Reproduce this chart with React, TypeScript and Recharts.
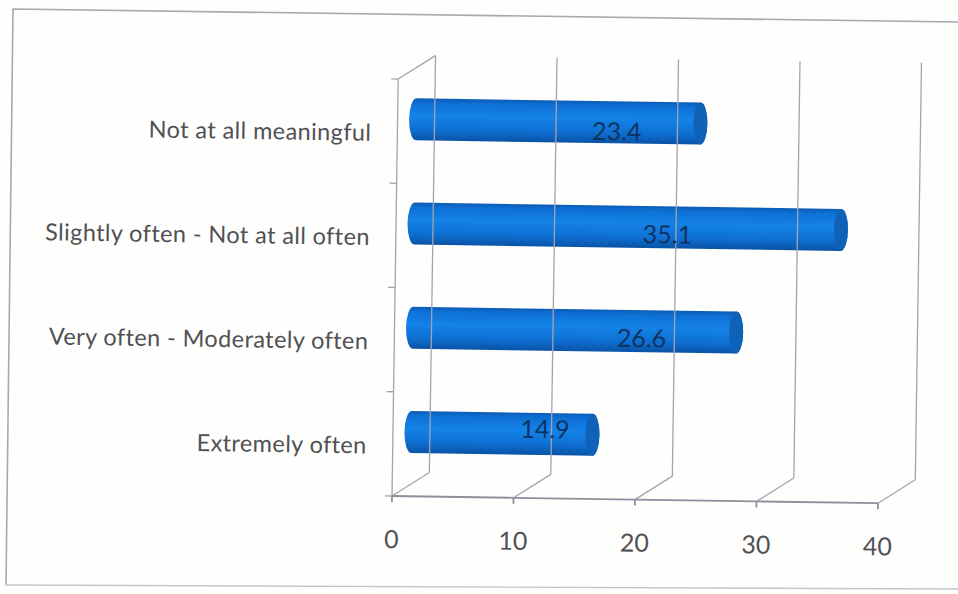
import React from 'react';
import { BarChart, Bar, XAxis, YAxis, LabelList } from 'recharts';

const categories = [
  'Not at all meaningful',
  'Slightly often - Not at all often',
  'Very often - Moderately often',
  'Extremely often',
];
const percentages = [23.4, 35.1, 26.6, 14.9];
const xTicks = [0, 10, 20, 30, 40];

// where each data label sits, relative to the end of its bar and the middle of its row
const labelInset = [65, 155, 76, 29];
const labelLift = [-3, -5, -5, -17];

const rows = categories.map((name, i) => ({ name, value: percentages[i] }));

const WIDTH = 958;
const HEIGHT = 594;
const PLOT_LEFT = 392;
const PLOT_RIGHT = 878;
const PLOT_TOP = 79;
const FLOOR_Y = 496;
const ROW_HEIGHT = (FLOOR_Y - PLOT_TOP) / categories.length;
const TICK_STEP = (PLOT_RIGHT - PLOT_LEFT) / (xTicks.length - 1);
// the box is drawn with a fake depth, back wall sits up and to the right
const DEPTH_X = 37;
const DEPTH_Y = 24;
const TILT = 0.85;

const WALL = '#a3a3af';
const FLOOR = '#8e8e9c';
const TEXT = '#505055';
const FONT = 'Lato, "Open Sans", sans-serif';

function ValueTick({ x, payload, index }: any) {
  return (
    <g>
      <line x1={x} y1={FLOOR_Y} x2={x + DEPTH_X} y2={FLOOR_Y - DEPTH_Y} stroke={WALL} strokeWidth={1.3} />
      <line x1={x + DEPTH_X} y1={FLOOR_Y - DEPTH_Y} x2={x + DEPTH_X} y2={PLOT_TOP - DEPTH_Y} stroke={WALL} strokeWidth={1.3} />
      <line x1={x} y1={FLOOR_Y} x2={x} y2={FLOOR_Y + 6} stroke={FLOOR} strokeWidth={1.8} />
      {index < xTicks.length - 1 && (
        <path d={`M${x},${FLOOR_Y} L${x + TICK_STEP},${FLOOR_Y}`} fill="none" stroke={FLOOR} strokeWidth={1.8} />
      )}
      <text x={x} y={FLOOR_Y + 52} textAnchor="middle" fontFamily={FONT} fontSize={25} fill={TEXT}>
        {payload.value}
      </text>
    </g>
  );
}

function CategoryTick({ y, payload, index }: any) {
  return (
    <g>
      <line x1={PLOT_LEFT - 7} y1={y - ROW_HEIGHT / 2} x2={PLOT_LEFT} y2={y - ROW_HEIGHT / 2} stroke={WALL} strokeWidth={1.3} />
      {index === categories.length - 1 && (
        <line x1={PLOT_LEFT - 7} y1={FLOOR_Y} x2={PLOT_LEFT} y2={FLOOR_Y} stroke={WALL} strokeWidth={1.3} />
      )}
      <text x={366} y={y + 10} textAnchor="end" fontFamily={FONT} fontSize={23.5} letterSpacing={0.4} fill={TEXT}>
        {payload.value}
      </text>
    </g>
  );
}

// Cylinder lying on its side, pushed back to the middle of the box depth
function Cylinder({ x, y, width, height }: any) {
  const rx = 7;
  const left = x + DEPTH_X / 2;
  const right = left + width;
  const top = y - DEPTH_Y / 2;
  const bottom = top + height;
  const mid = (top + bottom) / 2;
  const ry = height / 2;
  const body =
    `M${right},${top} L${left},${top} A${rx},${ry} 0 0 0 ${left},${bottom} ` +
    `L${right},${bottom} A${rx},${ry} 0 0 0 ${right},${top} Z`;
  return (
    <g>
      <path d={body} fill="url(#tube)" />
      <ellipse cx={right} cy={mid} rx={rx} ry={ry} fill="#0f62b8" />
    </g>
  );
}

function ValueLabel({ x, y, width, height, value, index }: any) {
  return (
    <text
      x={x + width - labelInset[index]}
      y={y + height / 2 + labelLift[index] + 9}
      textAnchor="middle"
      fontFamily={FONT}
      fontSize={25}
      fill="#0f3360"
    >
      {value}
    </text>
  );
}

export default function App() {
  return (
    <div style={{ position: 'absolute', left: 0, top: 0, width: WIDTH, height: HEIGHT, overflow: 'hidden', background: '#fefefd' }}>
      <svg width={WIDTH} height={HEIGHT} style={{ position: 'absolute', left: 0, top: 0 }}>
        <path d="M958,22 L13,9 L6,585" fill="none" stroke="#a9a9ad" strokeWidth={1.6} />
        <path d="M6,585 L958,589" fill="none" stroke="#c4c4c6" strokeWidth={1.4} />
      </svg>
      <div style={{ position: 'absolute', left: 0, top: 0, transform: `rotate(${TILT}deg)`, transformOrigin: `${PLOT_LEFT}px ${FLOOR_Y}px` }}>
        <BarChart
          width={WIDTH}
          height={HEIGHT}
          data={rows}
          layout="vertical"
          barSize={42}
          margin={{ top: PLOT_TOP, right: 80, bottom: 38, left: 0 }}
          style={{ overflow: 'visible' }}
        >
          <defs>
            <linearGradient id="tube" x1="0" y1="0" x2="0" y2="1">
              <stop offset="0" stopColor="#0b5cb6" />
              <stop offset="0.12" stopColor="#0e70d6" />
              <stop offset="0.42" stopColor="#1483e8" />
              <stop offset="0.76" stopColor="#0e6ed0" />
              <stop offset="1" stopColor="#0953a6" />
            </linearGradient>
          </defs>
          <XAxis
            type="number"
            domain={[0, 40]}
            ticks={xTicks}
            height={60}
            interval={0}
            tick={<ValueTick />}
            tickLine={false}
            axisLine={false}
          />
          <YAxis
            type="category"
            dataKey="name"
            width={PLOT_LEFT}
            interval={0}
            tick={<CategoryTick />}
            tickLine={false}
            axisLine={{ stroke: WALL, strokeWidth: 1.3 }}
          />
          <Bar dataKey="value" shape={<Cylinder />} isAnimationActive={false}>
            <LabelList dataKey="value" content={<ValueLabel />} />
          </Bar>
          <line x1={PLOT_LEFT} y1={PLOT_TOP} x2={PLOT_LEFT + DEPTH_X} y2={PLOT_TOP - DEPTH_Y} stroke={WALL} strokeWidth={1.3} />
        </BarChart>
      </div>
    </div>
  );
}
